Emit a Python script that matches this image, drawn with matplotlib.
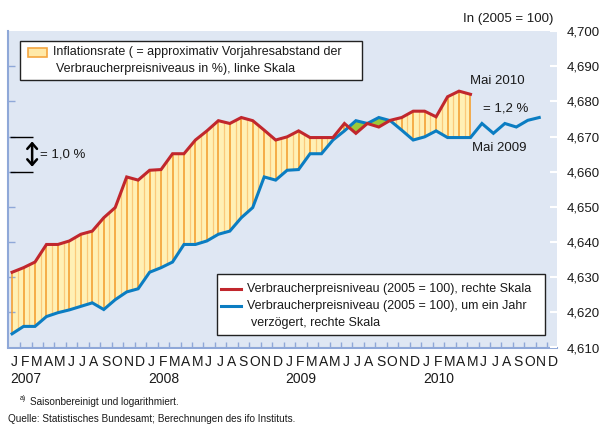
import numpy as np
import matplotlib
matplotlib.use('Agg')
import matplotlib.pyplot as plt
from matplotlib.patches import Rectangle
from matplotlib.lines import Line2D

plt.rcParams['font.family'] = ['Liberation Sans', 'DejaVu Sans']

# Verbraucherpreisniveau (log, 2005 = 100), Jan 2007 - Mai 2010
cpi = [4.6314, 4.6327, 4.6343, 4.6393, 4.6393, 4.6403, 4.6422, 4.6431, 4.6469, 4.6498, 4.6585, 4.6576,
       4.6604, 4.6606, 4.6651, 4.6651, 4.6690, 4.6716, 4.6745, 4.6737, 4.6754, 4.6745, 4.6718, 4.6690,
       4.6699, 4.6716, 4.6697, 4.6697, 4.6697, 4.6737, 4.6709, 4.6737, 4.6727, 4.6746, 4.6754, 4.6772,
       4.6772, 4.6756, 4.6813, 4.6829, 4.6820]

# dasselbe, um ein Jahr verzoegert, Jan 2007 - Nov 2010
cpi_lag = [4.6139, 4.6160, 4.6160, 4.6188, 4.6199, 4.6207, 4.6217, 4.6227, 4.6208, 4.6236, 4.6258, 4.6267,
           4.6314, 4.6327, 4.6343, 4.6393, 4.6393, 4.6403, 4.6422, 4.6431, 4.6469, 4.6498, 4.6585, 4.6576,
           4.6604, 4.6606, 4.6651, 4.6651, 4.6690, 4.6716, 4.6745, 4.6737, 4.6754, 4.6745, 4.6718, 4.6690,
           4.6699, 4.6716, 4.6697, 4.6697, 4.6697, 4.6737, 4.6709, 4.6737, 4.6727, 4.6746, 4.6754]

month_letters = ['J', 'F', 'M', 'A', 'M', 'J', 'J', 'A', 'S', 'O', 'N', 'D']
years = ['2007', '2008', '2009', '2010']
yticks = [4.61, 4.62, 4.63, 4.64, 4.65, 4.66, 4.67, 4.68, 4.69, 4.70]

RED = '#c1272d'
BLUE = '#0b7dc2'
BG = '#dfe7f3'
AXC = '#8fa8d8'
YEL = '#fff0b5'
ORA = '#f39a2a'
ORA_L = '#fbc97a'
GREEN = '#9cc93a'
TXT = '#1a1a1a'

W, H = 602, 424


def fx(px):
    return px / W


def fy(py):
    return 1 - py / H


fig = plt.figure(figsize=(W / 100, H / 100), dpi=100)
ax = fig.add_axes([fx(7.5), fy(347.5), fx(557) - fx(7.5), fy(31) - fy(347.5)])
ax.set_facecolor(BG)

red = np.array(cpi)
blue = np.array(cpi_lag)
xr = np.arange(len(red))
xb = np.arange(len(blue))
bl = blue[:len(red)]

# Flaeche zwischen den Kurven (Inflationsrate)
ax.fill_between(xr, bl, red, where=red >= bl, interpolate=True, color=YEL, lw=0, zorder=1)
ax.fill_between(xr, bl, red, where=red < bl, interpolate=True, color=GREEN, lw=0, zorder=1)

# senkrechte Streifen
for i in range(len(red)):
    if red[i] > bl[i]:
        ax.vlines(i, bl[i], red[i], color=ORA, lw=1.1, zorder=2)
xh = np.arange(0, len(red) - 1) + 0.5
rh = np.interp(xh, xr, red)
bh = np.interp(xh, xr, bl)
for x0, b0, r0 in zip(xh, bh, rh):
    if r0 > b0:
        ax.vlines(x0, b0, r0, color=ORA_L, lw=0.9, zorder=2)

ax.plot(xb, blue, color=BLUE, lw=2.2, zorder=4, solid_joinstyle='miter')
ax.plot(xr, red, color=RED, lw=2.2, zorder=5, solid_joinstyle='miter')

ax.set_xlim(-0.4, 47.55)
ax.set_ylim(4.61, 4.70)

for s in ['top', 'right']:
    ax.spines[s].set_visible(False)
for s in ['left', 'bottom']:
    ax.spines[s].set_color(AXC)
    ax.spines[s].set_linewidth(1.5)

ax.set_xticks(np.arange(47) + 0.7)
ax.set_xticklabels([])
ax.tick_params(axis='x', direction='in', length=4, width=1, color=AXC)
ax.set_yticks(yticks[1:-1])
ax.set_yticklabels([])
ax.tick_params(axis='y', direction='in', length=5, width=1, color=AXC)

# rechte Skala
ax2 = ax.twinx()
ax2.set_ylim(4.61, 4.70)
ax2.set_yticks(yticks)
ax2.set_yticklabels([f'{v:.3f}'.replace('.', ',') for v in yticks])
ax2.tick_params(axis='y', direction='in', length=5, width=1.5, color='white',
                labelsize=9.5, labelcolor=TXT, pad=7)
for s in ax2.spines.values():
    s.set_visible(False)

# Monate und Jahre
for k in range(48):
    ax.text(k + 0.15, -0.045, month_letters[k % 12], transform=ax.get_xaxis_transform(),
            ha='center', va='center', fontsize=10, color=TXT)
for j, yr in enumerate(years):
    ax.text(j * 12 - 0.15, -0.10, yr, transform=ax.get_xaxis_transform(),
            ha='left', va='center', fontsize=10, color=TXT)

# Beschriftungen im Diagramm
ax.text(42.3, 4.6858, 'Mai 2010', ha='center', va='center', fontsize=9.5, color=TXT)
ax.text(41.05, 4.6781, '= 1,2 %', ha='left', va='center', fontsize=9.5, color=TXT)
ax.text(42.5, 4.6667, 'Mai 2009', ha='center', va='center', fontsize=9.5, color=TXT)

ax.hlines([4.67, 4.66], -0.2, 1.85, color='black', lw=1.0, zorder=6)
ax.annotate('', xy=(1.75, 4.6614), xytext=(1.75, 4.6686),
            arrowprops=dict(arrowstyle='<->,head_length=0.4,head_width=0.35', color='black', lw=1.8,
                            mutation_scale=10, shrinkA=0, shrinkB=0), zorder=6)
ax.text(2.4, 4.6648, '= 1,0 %', ha='left', va='center', fontsize=9.5, color=TXT)

# Legende oben
fig.add_artist(Rectangle((fx(20), fy(80)), fx(362) - fx(20), fy(41) - fy(80), transform=fig.transFigure,
                         facecolor='white', edgecolor='#222222', lw=1.0, zorder=10))
fig.add_artist(Rectangle((fx(28), fy(56.5)), fx(46.5) - fx(28), fy(48) - fy(56.5), transform=fig.transFigure,
                         facecolor='#ffe9a8', edgecolor='#f5a640', lw=1.2, zorder=11))
fig.text(fx(53), fy(52), 'Inflationsrate ( = approximativ Vorjahresabstand der', fontsize=9,
         ha='left', va='center', color=TXT, zorder=11)
fig.text(fx(56), fy(69), 'Verbraucherpreisniveaus in %), linke Skala', fontsize=9,
         ha='left', va='center', color=TXT, zorder=11)

# Legende unten
fig.add_artist(Rectangle((fx(217), fy(335)), fx(545) - fx(217), fy(274) - fy(335), transform=fig.transFigure,
                         facecolor='white', edgecolor='#222222', lw=1.0, zorder=10))
fig.add_artist(Line2D([fx(221), fx(241)], [fy(289), fy(289)], transform=fig.transFigure,
                      color=RED, lw=2.2, zorder=11))
fig.add_artist(Line2D([fx(221), fx(241)], [fy(306), fy(306)], transform=fig.transFigure,
                      color=BLUE, lw=2.2, zorder=11))
fig.text(fx(247), fy(289), 'Verbraucherpreisniveau (2005 = 100), rechte Skala', fontsize=9,
         ha='left', va='center', color=TXT, zorder=11)
fig.text(fx(247), fy(306), 'Verbraucherpreisniveau (2005 = 100), um ein Jahr', fontsize=9,
         ha='left', va='center', color=TXT, zorder=11)
fig.text(fx(251), fy(323), 'verzögert, rechte Skala', fontsize=9,
         ha='left', va='center', color=TXT, zorder=11)

fig.text(fx(553), fy(19), 'In (2005 = 100)', fontsize=9.5, ha='right', va='center', color=TXT)

# Fussnoten
fig.text(fx(20), fy(399), 'a)', fontsize=5, ha='left', va='center', color=TXT)
fig.text(fx(30), fy(402), 'Saisonbereinigt und logarithmiert.', fontsize=7.2, ha='left', va='center', color=TXT)
fig.text(fx(8), fy(419), 'Quelle: Statistisches Bundesamt; Berechnungen des ifo Instituts.', fontsize=7.2,
         ha='left', va='center', color=TXT)

fig.savefig('out.png', dpi=100)
